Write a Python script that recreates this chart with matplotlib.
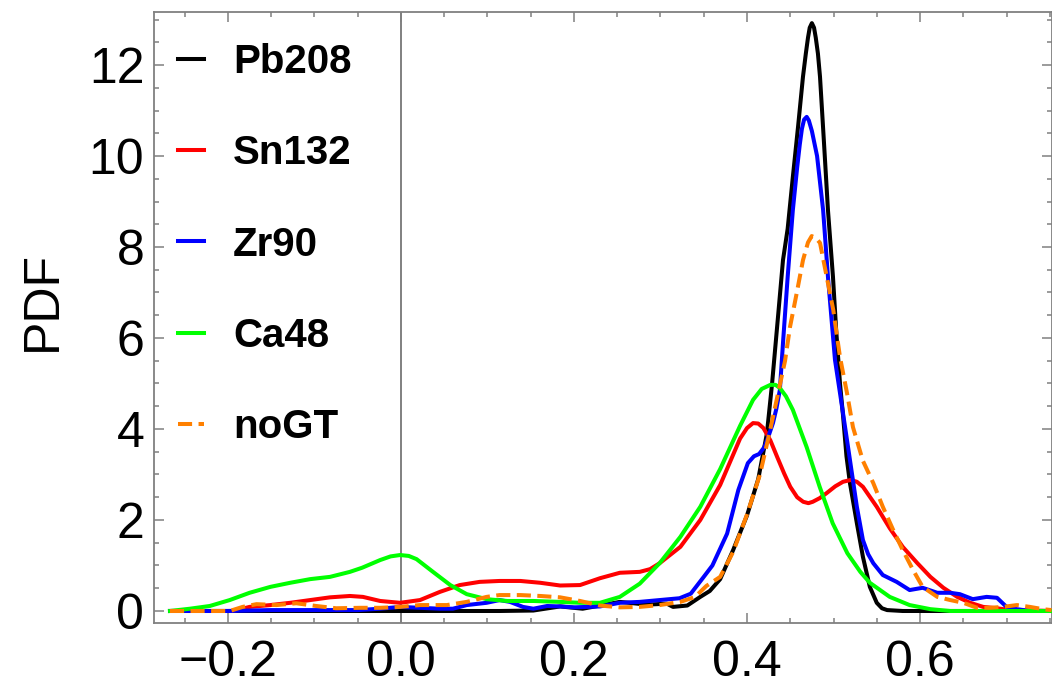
import matplotlib
matplotlib.use("Agg")
import matplotlib.pyplot as plt
from matplotlib.ticker import MultipleLocator, FuncFormatter

plt.rcParams['font.family'] = ['Liberation Sans', 'DejaVu Sans']

# values
pb208_x = [-0.267, 0.10, 0.114, 0.153, 0.184, 0.21, 0.253, 0.284, 0.3075, 0.3145, 0.331,
           0.346, 0.357, 0.369, 0.384, 0.400, 0.413, 0.423, 0.429, 0.436, 0.4416, 0.447,
           0.453, 0.459, 0.4647, 0.468, 0.4705, 0.4725, 0.475, 0.4775, 0.4795, 0.482,
           0.4844, 0.489, 0.4936, 0.4994, 0.503, 0.5075, 0.511, 0.515, 0.519, 0.527,
           0.534, 0.542, 0.550, 0.556, 0.562, 0.58, 0.752]
pb208_y = [0.0, 0.0, 0.0, 0.01, 0.10, 0.05, 0.20, 0.14, 0.16, 0.09, 0.12,
           0.31, 0.44, 0.70, 1.34, 2.10, 2.90, 3.90, 5.00, 6.50, 7.71, 8.40,
           9.54, 10.64, 11.74, 12.25, 12.6, 12.82, 12.92, 12.82, 12.6, 12.25,
           11.74, 10.29, 8.81, 7.34, 6.20, 5.00, 4.30, 3.40, 2.81, 1.93,
           1.19, 0.53, 0.18, 0.06, 0.02, 0.0, 0.0]

sn132_x = [-0.267, -0.194, -0.175, -0.151, -0.128, -0.105, -0.082, -0.059, -0.044, -0.024,
           -0.001, 0.022, 0.045, 0.068, 0.091, 0.114, 0.138, 0.161, 0.184, 0.207, 0.230,
           0.253, 0.276, 0.288, 0.299, 0.323, 0.346, 0.369, 0.392, 0.400, 0.407, 0.413,
           0.419, 0.427, 0.435, 0.443, 0.450, 0.458, 0.465, 0.471, 0.476, 0.484, 0.492,
           0.502, 0.511, 0.520, 0.527, 0.534, 0.550, 0.565, 0.580, 0.597, 0.612, 0.627,
           0.643, 0.658, 0.673, 0.689, 0.704, 0.752]
sn132_y = [0.0, 0.0, 0.09, 0.13, 0.18, 0.24, 0.30, 0.33, 0.31, 0.22,
           0.18, 0.24, 0.42, 0.57, 0.64, 0.66, 0.66, 0.62, 0.56, 0.57, 0.72,
           0.84, 0.86, 0.92, 1.05, 1.41, 2.00, 2.77, 3.79, 4.02, 4.13, 4.12,
           4.02, 3.75, 3.38, 3.02, 2.73, 2.50, 2.40, 2.37, 2.40, 2.48, 2.59,
           2.74, 2.84, 2.88, 2.84, 2.73, 2.29, 1.82, 1.41, 1.05, 0.75, 0.51,
           0.31, 0.18, 0.09, 0.06, 0.02, 0.0]

zr90_x = [-0.267, -0.20, -0.15, -0.05, -0.024, -0.001, 0.022, 0.045, 0.060, 0.076, 0.099,
          0.114, 0.126, 0.141, 0.153, 0.169, 0.184, 0.20, 0.23, 0.253, 0.276, 0.299, 0.322,
          0.335, 0.35, 0.36, 0.377, 0.39, 0.401, 0.408, 0.414, 0.42, 0.425, 0.430, 0.434,
          0.438, 0.4416, 0.447, 0.453, 0.458, 0.461, 0.4635, 0.466, 0.469, 0.4715, 0.475,
          0.481, 0.488, 0.4936, 0.5017, 0.5075, 0.513, 0.519, 0.527, 0.534, 0.540, 0.546,
          0.557, 0.573, 0.588, 0.603, 0.620, 0.635, 0.646, 0.661, 0.677, 0.689, 0.700,
          0.712, 0.727, 0.752]
zr90_y = [0.0, 0.0, 0.02, 0.02, 0.05, 0.09, 0.07, 0.05, 0.05, 0.13, 0.18,
          0.24, 0.20, 0.09, 0.05, 0.11, 0.10, 0.08, 0.10, 0.18, 0.20, 0.24, 0.28,
          0.38, 0.75, 1.00, 1.70, 2.66, 3.25, 3.40, 3.45, 3.60, 3.85, 4.13, 4.45,
          4.86, 5.89, 7.34, 8.81, 9.75, 10.25, 10.60, 10.80, 10.86, 10.78, 10.55,
          10.00, 8.81, 7.34, 5.52, 4.79, 4.09, 3.32, 2.29, 1.56, 1.25, 1.05,
          0.79, 0.64, 0.46, 0.51, 0.40, 0.40, 0.37, 0.26, 0.31, 0.29, 0.09,
          0.04, 0.0, 0.0]

ca48_x = [-0.267, -0.244, -0.221, -0.198, -0.175, -0.151, -0.128, -0.105, -0.082, -0.059,
          -0.045, -0.024, -0.012, -0.001, 0.009, 0.018, 0.037, 0.057, 0.076, 0.099, 0.123,
          0.153, 0.184, 0.207, 0.230, 0.253, 0.276, 0.299, 0.323, 0.346, 0.369, 0.392,
          0.407, 0.417, 0.427, 0.433, 0.438, 0.445, 0.453, 0.469, 0.484, 0.499, 0.516,
          0.531, 0.542, 0.565, 0.588, 0.612, 0.635, 0.752]
ca48_y = [0.0, 0.05, 0.11, 0.24, 0.40, 0.53, 0.62, 0.70, 0.75, 0.86,
          0.95, 1.12, 1.20, 1.23, 1.21, 1.14, 0.86, 0.57, 0.37, 0.26, 0.22,
          0.22, 0.20, 0.18, 0.18, 0.31, 0.60, 1.05, 1.63, 2.29, 3.12, 4.07,
          4.64, 4.88, 4.97, 4.97, 4.90, 4.72, 4.42, 3.60, 2.73, 1.93, 1.27,
          0.86, 0.62, 0.31, 0.13, 0.04, 0.0, 0.0]

nogt_x = [-0.267, -0.198, -0.183, -0.167, -0.144, -0.121, -0.098, -0.075, -0.047, -0.024,
          -0.001, 0.022, 0.053, 0.076, 0.099, 0.114, 0.138, 0.161, 0.184, 0.207, 0.230,
          0.253, 0.276, 0.299, 0.323, 0.34, 0.353, 0.369, 0.384, 0.400, 0.415, 0.427,
          0.436, 0.444, 0.4497, 0.4575, 0.4647, 0.4705, 0.4748, 0.4795, 0.4844, 0.4922,
          0.4997, 0.5075, 0.5156, 0.5225, 0.534, 0.546, 0.557, 0.569, 0.580, 0.592, 0.603,
          0.620, 0.635, 0.650, 0.666, 0.681, 0.696, 0.712, 0.727, 0.742, 0.752]
nogt_y = [0.0, 0.0, 0.09, 0.15, 0.13, 0.17, 0.11, 0.06, 0.07, 0.07,
          0.09, 0.13, 0.13, 0.20, 0.31, 0.35, 0.35, 0.33, 0.30, 0.22, 0.12,
          0.08, 0.09, 0.13, 0.20, 0.31, 0.55, 0.75, 1.30, 2.12, 3.00, 4.00,
          4.79, 5.50, 6.24, 6.99, 7.71, 8.10, 8.24, 8.20, 8.09, 7.34,
          6.62, 5.58, 4.79, 4.04, 3.30, 2.81, 2.29, 1.78, 1.34, 0.90, 0.53,
          0.31, 0.24, 0.18, 0.07, 0.07, 0.09, 0.13, 0.09, 0.04, 0.02]

labels = ['Pb208', 'Sn132', 'Zr90', 'Ca48', 'noGT']
colors = ['black', '#FF0000', '#0000FF', '#00FF00', '#FF8000']

fig = plt.figure(figsize=(10.52, 6.86), dpi=100)
ax = fig.add_axes([154 / 1052, 63 / 686, (1051.5 - 154) / 1052, 611 / 686])

ax.axvline(0, color='#808080', lw=1.4, zorder=1)

series = [(pb208_x, pb208_y), (sn132_x, sn132_y), (zr90_x, zr90_y),
          (ca48_x, ca48_y), (nogt_x, nogt_y)]
for i, (xs, ys) in enumerate(series):
    if labels[i] == 'noGT':
        ax.plot(xs, ys, color=colors[i], lw=2.9, dashes=(3.5, 1.6),
                label=labels[i], zorder=2 + i)
    else:
        ax.plot(xs, ys, color=colors[i], lw=2.9, label=labels[i],
                zorder=2 + i, solid_joinstyle='round')

ax.set_xlim(-0.2855, 0.752)
ax.set_ylim(-0.264, 13.165)

ax.xaxis.set_major_locator(MultipleLocator(0.2))
ax.xaxis.set_minor_locator(MultipleLocator(0.05))
ax.xaxis.set_major_formatter(FuncFormatter(lambda v, p: f'{v:.1f}'.replace('-', '\u2212')))
ax.yaxis.set_major_locator(MultipleLocator(2))
ax.yaxis.set_minor_locator(MultipleLocator(0.5))

for s in ax.spines.values():
    s.set_color('#808080')
    s.set_linewidth(1.3)

ax.tick_params(which='both', direction='in', top=True, right=True,
               color='#808080', width=1.1, labelsize=36)
ax.tick_params(which='major', length=7)
ax.tick_params(which='minor', length=3.5)
ax.tick_params(axis='x', pad=12)
ax.tick_params(axis='y', pad=7)

ax.set_ylabel('PDF', fontsize=36)
ax.yaxis.set_label_coords(-0.098, 0.527)

ax.legend(loc='upper left', bbox_to_anchor=(-0.005, 0.995), frameon=False,
          prop={'weight': 'bold', 'size': 29}, handlelength=0.65,
          handletextpad=0.72, labelspacing=1.32, borderaxespad=0.3,
          borderpad=0.4)

fig.savefig('out.png', dpi=100)
